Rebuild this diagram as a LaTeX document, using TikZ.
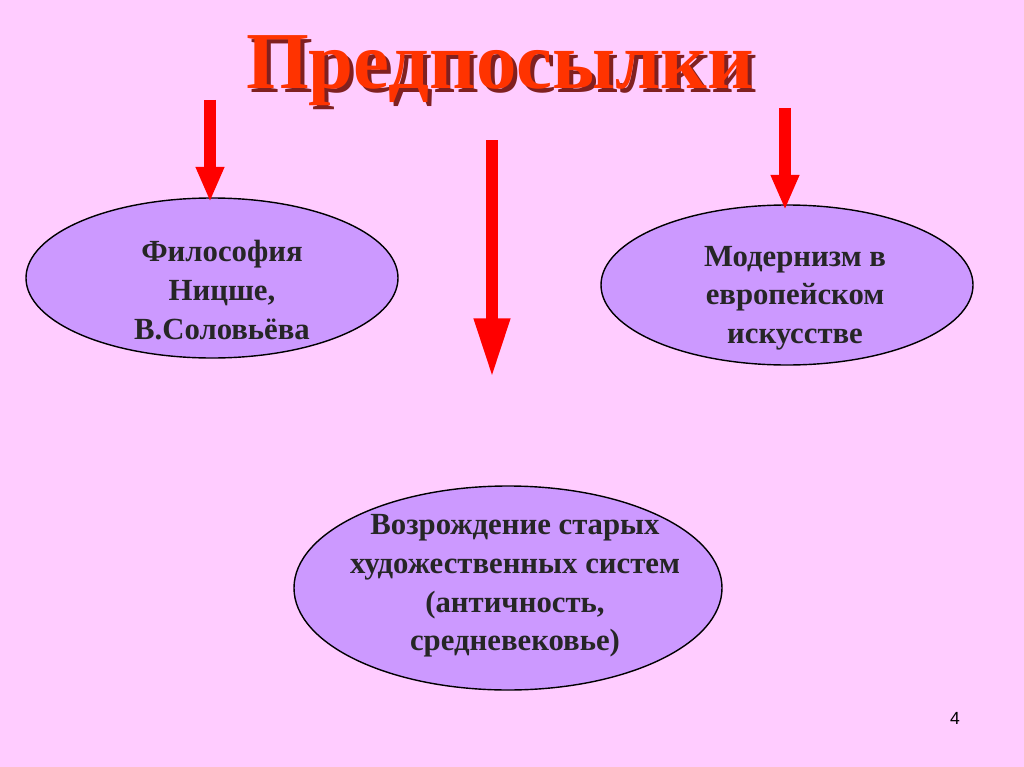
\documentclass[tikz,border=0pt]{standalone}
\usepackage{fontspec}
\setmainfont{Liberation Serif}
\newfontfamily\sansf{Liberation Sans}
\usetikzlibrary{arrows.meta}
\definecolor{bg}{HTML}{FFCCFF}
\definecolor{ell}{HTML}{CC99FF}
\definecolor{arr}{HTML}{FF0000}
\definecolor{ttl}{HTML}{FF3300}
\definecolor{shd}{HTML}{802020}
\tikzset{
  etext/.style={font=\fontsize{17.5}{22}\selectfont\bfseries,align=center,text=black!85},
  redarrow/.style={draw=arr,line width=6.8pt,-{Triangle[width=15pt,length=20pt]}}
}
\begin{document}
\begin{tikzpicture}[x=0.02cm,y=-0.02cm]
\fill[bg] (0,0) rectangle (1024,767);
\useasboundingbox (0,0) rectangle (1024,767);
\node[font=\fontsize{46}{50}\selectfont\bfseries,text=shd] (tshadow) at (504,75) {Предпосылки};
\node[font=\fontsize{46}{50}\selectfont\bfseries,text=ttl] (title) at (500,71) {Предпосылки};
\fill[ell,draw=black,line width=0.8pt] (212,278) ellipse [x radius=186,y radius=80];
\node[etext] (e1) at (222,290) {Философия\\Ницше,\\В.Соловьёва};
\fill[ell,draw=black,line width=0.8pt] (787,285) ellipse [x radius=186,y radius=80];
\node[etext] (e2) at (795,298) {Модернизм в\\европейском\\искусстве};
\fill[ell,draw=black,line width=0.8pt] (508,588) ellipse [x radius=214,y radius=102];
\node[etext] (e3) at (515,586) {Возрождение старых\\художественных систем\\(античность,\\средневековье)};
\coordinate (a1s) at (210,100); \coordinate (a1e) at (210,202);
\coordinate (a2s) at (492,140); \coordinate (a2e) at (492,378);
\coordinate (a3s) at (785,108); \coordinate (a3e) at (785,210);
\draw[redarrow] (a1s) -- (a1e);
\draw[redarrow,-{Triangle[width=19pt,length=34pt]}] (a2s) -- (a2e);
\draw[redarrow] (a3s) -- (a3e);
\node[font=\sansf\fontsize{10}{12}\selectfont] (pg) at (955,718) {4};
\end{tikzpicture}
\end{document}
